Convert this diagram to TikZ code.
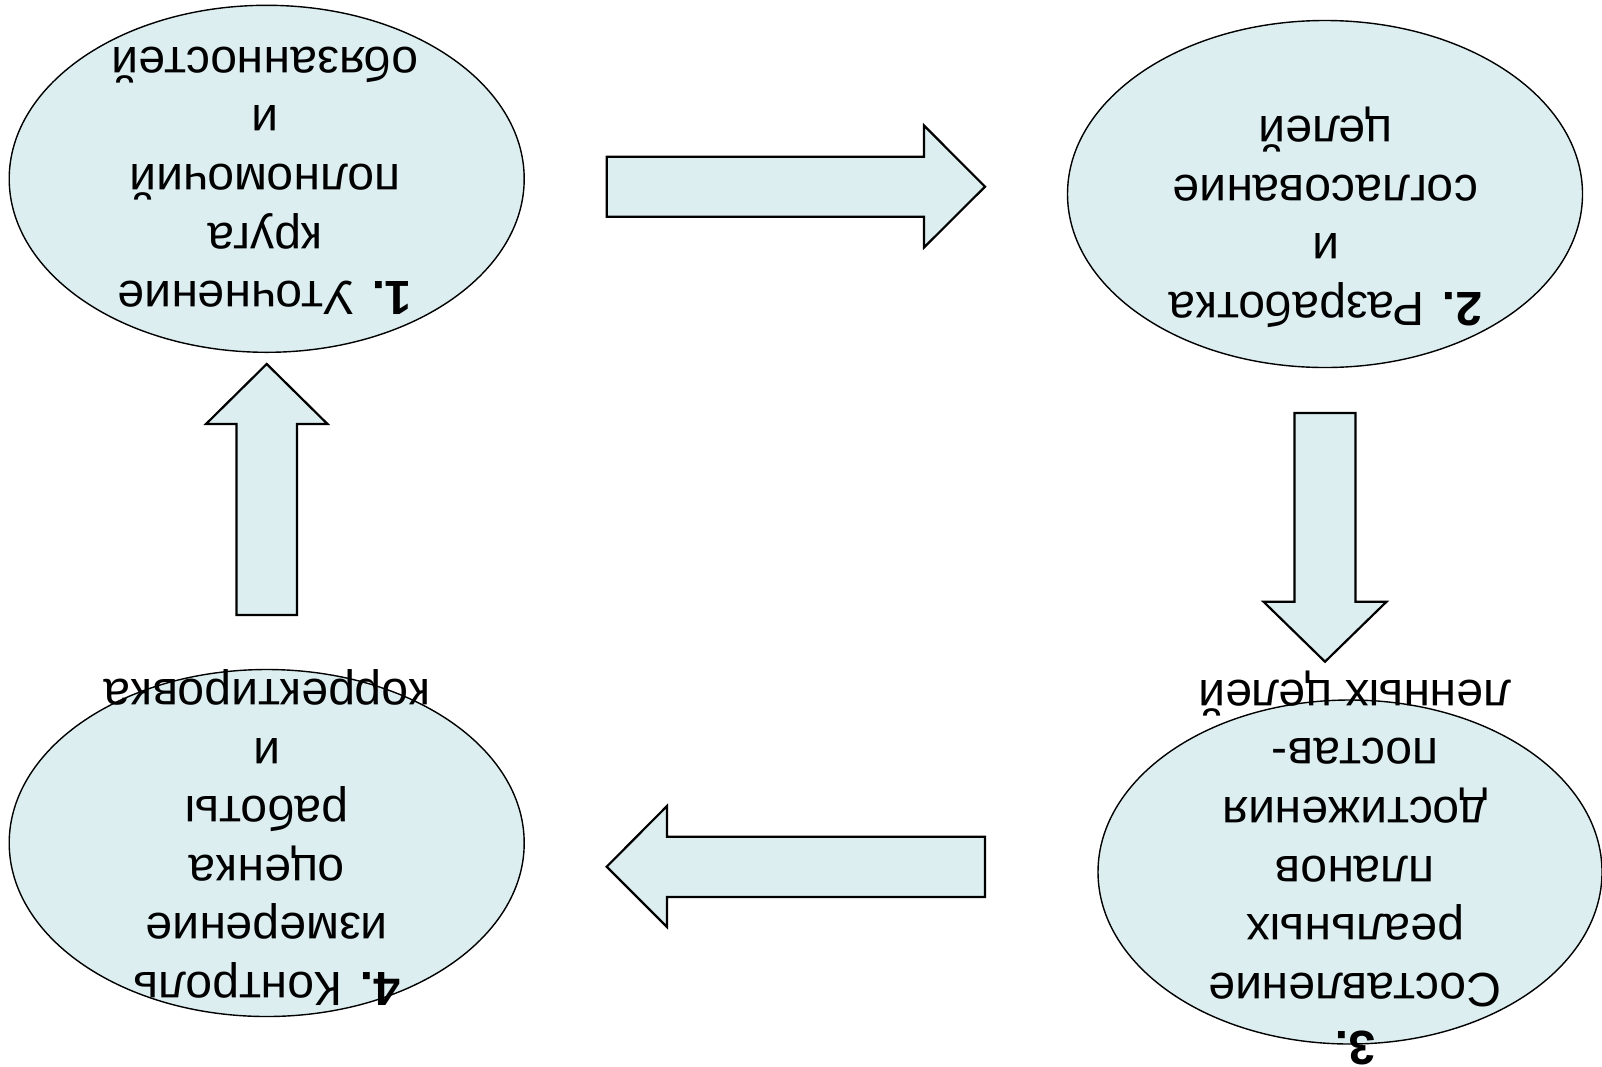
\documentclass[tikz,border=0pt]{standalone}
\usepackage{fontspec}
\setmainfont{Liberation Sans}
\usetikzlibrary{shapes.geometric}
\definecolor{cellfill}{RGB}{221,238,241}

\begin{document}
\begin{tikzpicture}[x=1pt,y=-1pt,
  stage/.style={ellipse, draw=black, line width=1.4pt, fill=cellfill,
    inner sep=0pt, minimum width=515pt, minimum height=347pt},
  stagetext/.style={rotate=180, align=center, inner sep=0pt,
    font=\fontsize{48}{58.6}\selectfont},
  blockarrow/.style={draw=black, line width=2.2pt, fill=cellfill, line join=miter}]
\useasboundingbox (0,0) rectangle (1602,1066);

% stage ellipses
\node[stage] (e1) at (266.7,178.8) {};
\node[stage] (e2) at (1325,194) {};
\node[stage, minimum width=504pt, minimum height=344pt] (e3) at (1350,872) {};
\node[stage] (e4) at (266.7,843) {};

% stage captions, set upside down
\node[stagetext] (t1) at (265,180.7) {\textbf{1.} Уточнение\\круга\\полномочий\\и\\обязанностей};
\node[stagetext] (t2) at (1325.7,217.5) {\textbf{2.} Разработка\\и\\согласование\\целей};
\node[stagetext] (t3) at (1355,868) {\textbf{3.}\\Составление\\реальных\\планов\\достижения\\постав-\\ленных целей};
\node[stagetext] (t4) at (267,837.5) {\textbf{4.} Контроль\\измерение\\оценка\\работы\\и\\корректировка};

% block arrows between the stages
\draw[blockarrow] (606.7,156.7) -- (924,156.7) -- (924,125.5) -- (985,186.7)
  -- (924,247.5) -- (924,216.7) -- (606.7,216.7) -- cycle;
\draw[blockarrow] (1294.5,413) -- (1355.5,413) -- (1355.5,601.7) -- (1386.5,601.7)
  -- (1325,661.7) -- (1263.5,601.7) -- (1294.5,601.7) -- cycle;
\draw[blockarrow] (985,836.7) -- (985,897) -- (667,897) -- (667,927)
  -- (606.7,866.7) -- (667,806) -- (667,836.7) -- cycle;
\draw[blockarrow] (236.5,615) -- (236.5,424) -- (206,424) -- (266.7,364)
  -- (327.5,424) -- (297,424) -- (297,615) -- cycle;
\end{tikzpicture}
\end{document}
